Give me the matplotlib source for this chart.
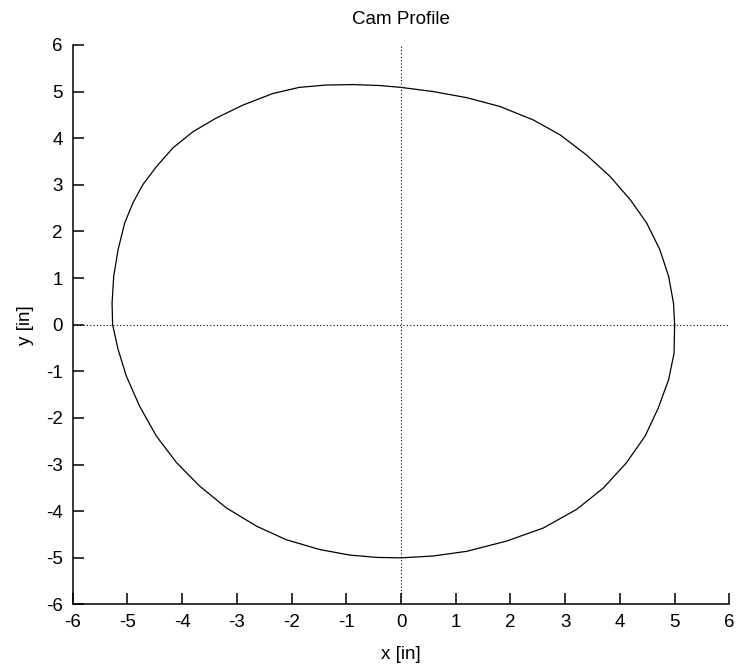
import matplotlib.pyplot as plt

# Cam profile outline (counterclockwise from +x)
cam_x = [5.00, 4.98, 4.89, 4.73, 4.49, 4.19, 3.82, 3.39, 2.91, 2.42, 1.81, 1.20,
         0.59, 0.00, -0.39, -0.88, -1.37, -1.86, -2.34, -2.89, -3.38, -3.80,
         -4.17, -4.47, -4.72, -4.90, -5.05, -5.17, -5.25, -5.28, -5.27, -5.17,
         -5.02, -4.78, -4.47, -4.10, -3.68, -3.19, -2.64, -2.10, -1.49, -0.94,
         -0.45, 0.00, 0.59, 1.20, 1.93, 2.60, 3.21, 3.70, 4.12, 4.46, 4.70,
         4.89, 4.99, 5.00]
cam_y = [0.00, 0.46, 1.04, 1.61, 2.18, 2.68, 3.18, 3.64, 4.07, 4.39, 4.68, 4.87,
         5.00, 5.09, 5.13, 5.15, 5.14, 5.09, 4.96, 4.71, 4.43, 4.14,
         3.79, 3.39, 3.00, 2.61, 2.18, 1.61, 1.04, 0.46, 0.00, -0.53,
         -1.10, -1.74, -2.39, -2.96, -3.46, -3.93, -4.32, -4.61, -4.82, -4.94,
         -4.99, -5.00, -4.96, -4.86, -4.64, -4.36, -3.96, -3.50, -2.96, -2.39, -1.79,
         -1.18, -0.61, 0.00]

ticks = list(range(-6, 7))

plt.rcParams['font.family'] = ['Liberation Sans', 'DejaVu Sans']
plt.rcParams['axes.unicode_minus'] = False

fig = plt.figure(figsize=(7.37, 6.65), dpi=100)
ax = fig.add_axes([0.0986, 0.091, 0.891, 0.8414])

# zero axes (gnuplot style)
ax.axhline(0, color='black', lw=0.8, linestyle=(0, (1, 2)))
ax.axvline(0, color='black', lw=0.8, linestyle=(0, (1, 2)))

ax.plot(cam_x, cam_y, color='black', lw=0.9)

ax.set_xlim(-6, 6)
ax.set_ylim(-6, 6)
ax.set_xticks(ticks)
ax.set_yticks(ticks)
ax.tick_params(direction='in', length=8, width=1.1, labelsize=13.5, pad=7)
ax.spines['top'].set_visible(False)
ax.spines['right'].set_visible(False)
for s in ['left', 'bottom']:
    ax.spines[s].set_linewidth(1.1)

ax.set_title("Cam Profile", fontsize=13.5, pad=15)
ax.set_xlabel("x [in]", fontsize=13.5, labelpad=11)
ax.set_ylabel("y [in]", fontsize=13.5, labelpad=8.5)

fig.savefig("out.png", dpi=100)
